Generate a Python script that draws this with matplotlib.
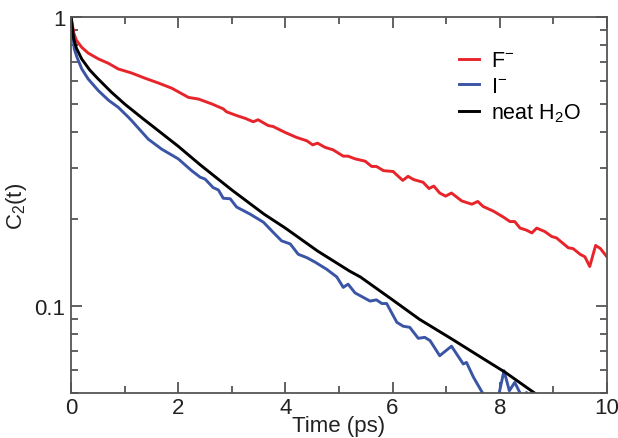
import matplotlib
matplotlib.use('Agg')
import matplotlib.pyplot as plt
from matplotlib.ticker import MultipleLocator, NullFormatter, LogLocator

# F- ion
t_f = [0.0, 0.05, 0.1, 0.2, 0.32, 0.51, 0.70, 0.88, 1.13, 1.38, 1.63, 1.88, 2.19, 2.38,
       2.63, 2.84, 2.90, 3.09, 3.25, 3.40, 3.49, 3.68, 3.77, 3.99, 4.21, 4.40, 4.51, 4.60,
       4.74, 4.89, 5.08, 5.17, 5.30, 5.49, 5.61, 5.70, 5.83, 6.01, 6.19, 6.29, 6.39, 6.57,
       6.68, 6.77, 6.88, 6.99, 7.10, 7.29, 7.48, 7.59, 7.69, 7.88, 8.07, 8.19, 8.28, 8.38,
       8.50, 8.60, 8.69, 8.84, 8.97, 9.06, 9.28, 9.37, 9.50, 9.59, 9.68, 9.79, 9.88, 10.0]
c_f = [1.0, 0.88, 0.83, 0.785, 0.75, 0.716, 0.691, 0.661, 0.640, 0.614, 0.591, 0.567, 0.527, 0.520,
       0.500, 0.481, 0.470, 0.456, 0.446, 0.434, 0.441, 0.421, 0.418, 0.399, 0.383, 0.373, 0.361, 0.366,
       0.354, 0.347, 0.330, 0.330, 0.323, 0.317, 0.304, 0.304, 0.294, 0.292, 0.272, 0.281, 0.274, 0.268,
       0.255, 0.260, 0.246, 0.240, 0.246, 0.231, 0.225, 0.230, 0.221, 0.213, 0.203, 0.196, 0.196, 0.186,
       0.183, 0.179, 0.186, 0.181, 0.174, 0.172, 0.159, 0.158, 0.151, 0.148, 0.137, 0.162, 0.158, 0.148]

# I- ion
t_i = [0.0, 0.06, 0.11, 0.2, 0.32, 0.51, 0.70, 0.88, 1.07, 1.13, 1.44, 1.69, 2.0, 2.25, 2.41,
       2.5, 2.65, 2.75, 2.84, 2.97, 3.09, 3.34, 3.59, 3.77, 3.93, 4.09, 4.24, 4.40, 4.55, 4.77,
       4.96, 5.08, 5.17, 5.30, 5.58, 5.70, 5.80, 5.89, 6.08, 6.20, 6.32, 6.48, 6.60, 6.70, 6.88,
       7.10, 7.32, 7.38, 7.51, 7.68, 7.8, 7.99, 8.08, 8.18, 8.28, 8.38, 8.45, 8.5, 8.6, 8.8,
       9.0, 9.5, 10.0]
c_i = [1.0, 0.775, 0.726, 0.661, 0.61, 0.556, 0.515, 0.487, 0.45, 0.438, 0.378, 0.349, 0.323, 0.294, 0.279,
       0.275, 0.257, 0.252, 0.236, 0.235, 0.220, 0.208, 0.195, 0.180, 0.168, 0.164, 0.151, 0.147, 0.142, 0.134,
       0.126, 0.116, 0.119, 0.111, 0.104, 0.105, 0.102, 0.102, 0.0878, 0.0851, 0.0844, 0.0773, 0.0779, 0.0759, 0.0673,
       0.0726, 0.063, 0.0638, 0.0567, 0.050, 0.046, 0.050, 0.0597, 0.0509, 0.0544, 0.050, 0.048, 0.0502, 0.045, 0.044,
       0.041, 0.036, 0.032]

# neat water
t_w = [0.0, 0.05, 0.1, 0.2, 0.35, 0.5, 0.75, 1.0, 1.34, 1.5, 2.0, 2.41, 3.0, 3.6, 4.0, 4.6,
       5.2, 5.4, 6.0, 6.5, 7.1, 7.7, 8.1, 8.65, 8.8]
c_w = [1.0, 0.84, 0.78, 0.715, 0.655, 0.612, 0.55, 0.50, 0.445, 0.422, 0.357, 0.308, 0.252, 0.208, 0.186, 0.155,
       0.132, 0.126, 0.105, 0.090, 0.077, 0.0656, 0.059, 0.050, 0.048]

plt.rcParams['font.family'] = ['Liberation Sans', 'DejaVu Sans']
plt.rcParams['mathtext.default'] = 'regular'

fig, ax = plt.subplots(figsize=(6.18, 4.39), dpi=100)
fig.subplots_adjust(left=0.115, right=0.982, top=0.959, bottom=0.1025)

ax.plot(t_f, c_f, color='#e8242b', lw=2.1, label='F$^{-}$')
ax.plot(t_i, c_i, color='#3a55a6', lw=2.1, label='I$^{-}$')
ax.plot(t_w, c_w, color='black', lw=2.1, label='neat H$_2$O')

ax.set_yscale('log')
ax.set_xlim(0, 10)
ax.set_ylim(0.05, 1)

ax.set_xticks([0, 2, 4, 6, 8, 10])
ax.xaxis.set_minor_locator(MultipleLocator(1))
ax.set_yticks([0.1, 1])
ax.set_yticklabels(['0.1', '1'])
ax.yaxis.set_minor_locator(LogLocator(base=10, subs=[2, 3, 4, 5, 6, 7, 8, 9]))
ax.yaxis.set_minor_formatter(NullFormatter())

frame = '#555555'
for s in ax.spines.values():
    s.set_color(frame)
    s.set_linewidth(1.3)
ax.tick_params(which='both', direction='in', top=True, right=True, color=frame, width=1.3,
               labelsize=16, labelcolor='#222222')
ax.tick_params(which='major', length=8)
ax.tick_params(axis='x', which='major', pad=3)
ax.tick_params(axis='y', which='major', pad=4)
ax.tick_params(which='minor', length=5)

ax.set_xlabel('Time (ps)', fontsize=16, color='#222222', labelpad=-2)
ax.set_ylabel('C$_2$(t)', fontsize=16, color='#222222', labelpad=4)

ax.legend(loc='upper left', bbox_to_anchor=(0.708, 0.935), frameon=False, fontsize=15.5,
          handlelength=0.95, handletextpad=0.55, labelspacing=0.22, borderaxespad=0)

fig.savefig('out.png', dpi=100)
